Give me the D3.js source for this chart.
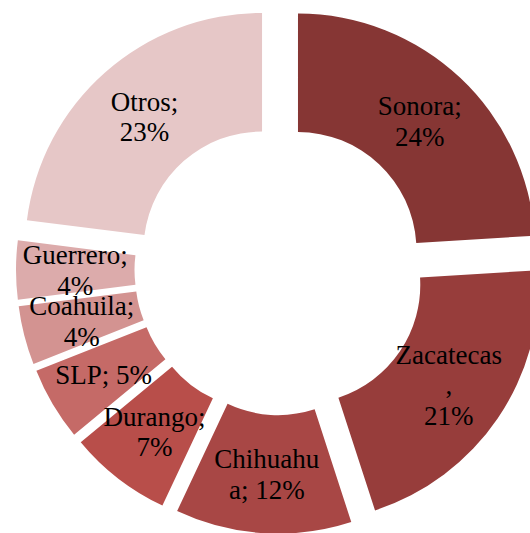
<!DOCTYPE html>
<html>
<head>
<meta charset="utf-8">
<script src="https://cdn.jsdelivr.net/npm/d3@7"></script>
<style>
  html, body { margin: 0; padding: 0; background: #ffffff; }
  svg { display: block; }
</style>
</head>
<body>
<svg id="chart" width="530" height="533"></svg>
<script>
// ---- Data ----
const categories = ["Sonora", "Zacatecas", "Chihuahua", "Durango", "SLP", "Coahuila", "Guerrero", "Otros"];
const values = [24, 21, 12, 7, 5, 4, 4, 23];
const colors = ["#863634", "#973d3b", "#a84745", "#b84e4a", "#c56a67", "#d39391", "#dcabab", "#e6c7c7"];
// Label text as wrapped in the original
const labelLines = [
  ["Sonora;", "24%"],
  ["Zacatecas", ",", "21%"],
  ["Chihuahu", "a; 12%"],
  ["Durango;", "7%"],
  ["SLP; 5%"],
  ["Coahuila;", "4%"],
  ["Guerrero;", "4%"],
  ["Otros;", "23%"]
];

// ---- Layout ----
const cx = 279.7, cy = 270;
const outerR = 237, innerR = 118.5;
const explode = 26.7;
const lineH = 30.7;

const svg = d3.select("#chart");
const data = categories.map((c, i) => ({ name: c, value: values[i], color: colors[i], lines: labelLines[i] }));

const pie = d3.pie().value(d => d.value).sort(null);
const arcs = pie(data);
const arc = d3.arc().innerRadius(innerR).outerRadius(outerR);

const g = svg.append("g").attr("transform", `translate(${cx},${cy})`);

function offset(a) {
  const mid = (a.startAngle + a.endAngle) / 2;
  return [explode * Math.sin(mid), -explode * Math.cos(mid)];
}

g.selectAll("path.slice")
  .data(arcs)
  .join("path")
  .attr("class", "slice")
  .attr("d", arc)
  .attr("fill", d => d.data.color)
  .attr("transform", d => { const o = offset(d); return `translate(${o[0]},${o[1]})`; });

const labels = g.selectAll("text.lbl")
  .data(arcs)
  .join("text")
  .attr("class", "lbl")
  .attr("text-anchor", "middle")
  .attr("font-family", "'Liberation Serif', 'Times New Roman', serif")
  .attr("font-size", "27px")
  .attr("fill", "#000")
  .attr("transform", d => {
    const c = arc.centroid(d);
    const o = offset(d);
    return `translate(${c[0] + o[0]},${c[1] + o[1]})`;
  });

labels.each(function(d) {
  const n = d.data.lines.length;
  const t = d3.select(this);
  d.data.lines.forEach((ln, i) => {
    t.append("tspan")
      .attr("x", 0)
      .attr("y", (i - (n - 1) / 2) * lineH)
      .attr("dy", "0.35em")
      .text(ln);
  });
});
</script>
</body>
</html>
